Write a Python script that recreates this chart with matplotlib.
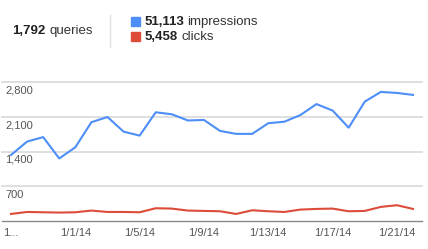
import matplotlib
matplotlib.use('Agg')
import matplotlib.pyplot as plt
import numpy as np

plt.rcParams['font.family'] = ['Liberation Sans', 'DejaVu Sans']

# Daten: 12/28/13 bis 1/22/14
dates = ['12/28/13', '12/29/13', '12/30/13', '12/31/13', '1/1/14', '1/2/14', '1/3/14',
         '1/4/14', '1/5/14', '1/6/14', '1/7/14', '1/8/14', '1/9/14', '1/10/14',
         '1/11/14', '1/12/14', '1/13/14', '1/14/14', '1/15/14', '1/16/14', '1/17/14',
         '1/18/14', '1/19/14', '1/20/14', '1/21/14', '1/22/14']
impressions = [1330, 1600, 1690, 1260, 1485, 1990, 2095, 1800, 1720, 2190, 2150, 2025,
               2035, 1815, 1755, 1755, 1970, 2000, 2135, 2355, 2225, 1880, 2405, 2600,
               2580, 2540]
clicks = [142, 182, 176, 170, 176, 210, 182, 182, 176, 257, 250, 210, 203, 196, 142,
          216, 196, 182, 230, 243, 250, 196, 203, 284, 318, 243]

xtick_labels = ['1...', '1/1/14', '1/5/14', '1/9/14', '1/13/14', '1/17/14', '1/21/14']
yticks = [700, 1400, 2100, 2800]
ytick_labels = ['700', '1,400', '2,100', '2,800']

blue = '#4d8ef7'
red = '#dd4b39'

fig = plt.figure(figsize=(4.28, 2.49), dpi=100)
ax = fig.add_axes([2/428, 28/249, 420/428, 139/249])

x = np.arange(len(dates))
ax.plot(x, impressions, color=blue, lw=1.5)
ax.plot(x, clicks, color=red, lw=1.5)

ax.set_xlim(-0.56, 25.56)
ax.set_ylim(0, 2800)
for v, lab in zip(yticks, ytick_labels):
    ax.axhline(v, color='#dcdcdc', lw=1.3, zorder=0, clip_on=False)
    ax.text(3/420, v - 70, lab, transform=ax.get_yaxis_transform(),
            ha='left', va='top', fontsize=8, color='#555555')
ax.set_yticks([])

ax.set_xticks(x[::4])
ax.set_xticklabels(xtick_labels, fontsize=8, color='#555555')
ax.tick_params(axis='x', length=0, pad=5)

for s in ['top', 'left', 'right']:
    ax.spines[s].set_visible(False)
ax.spines['bottom'].set_color('#888888')
ax.spines['bottom'].set_linewidth(1)

# Kopfzeile
fig.text(12/428, 1 - 31/249, '1,792', fontsize=9.5, color='#222222', va='center',
         fontweight='bold')
fig.text(49/428, 1 - 31/249, 'queries', fontsize=9.5, color='#333333', va='center')
fig.add_artist(plt.Line2D([110/428, 110/428], [1 - 15/249, 1 - 47/249],
                          color='#e0e0e0', lw=1))

for yy, col, num, word, wx in [(22, blue, '51,113', 'impressions', 187),
                               (37, red, '5,458', 'clicks', 181)]:
    fig.patches.append(plt.Rectangle((131/428, 1 - (yy + 4.5)/249), 9/428, 9/249,
                                     transform=fig.transFigure, color=col))
    fig.text(145/428, 1 - yy/249, num, fontsize=9.5, fontweight='bold',
             color='#222222', va='center')
    fig.text(wx/428, 1 - yy/249, word, fontsize=9.5, color='#333333', va='center')

fig.savefig('out.png', dpi=100)
